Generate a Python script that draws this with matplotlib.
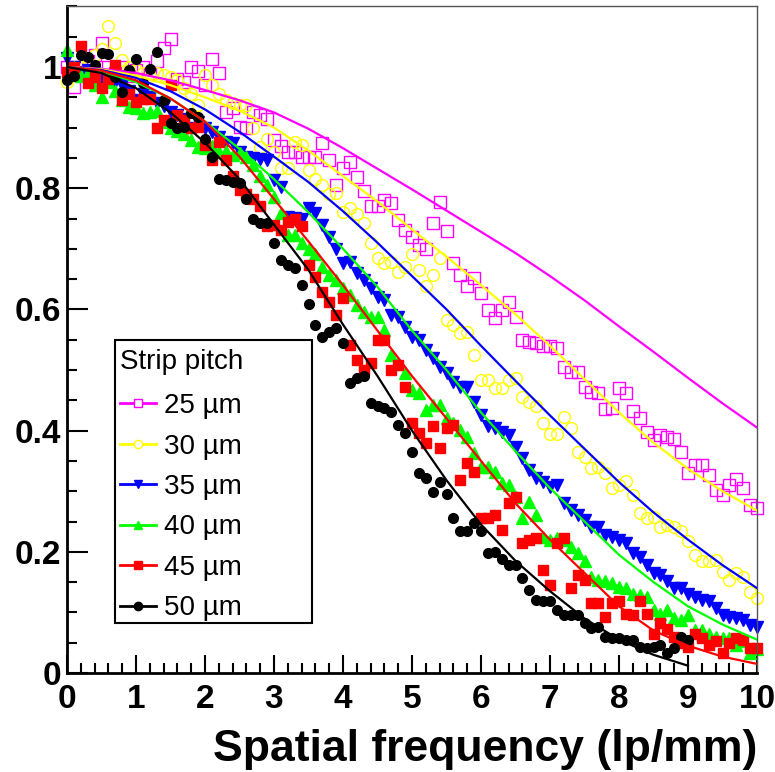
import numpy as np
import matplotlib
matplotlib.use("Agg")
import matplotlib.pyplot as plt
from matplotlib.lines import Line2D
from matplotlib.patches import Rectangle
from matplotlib.ticker import MultipleLocator, FuncFormatter

plt.rcParams['font.family'] = ['Liberation Sans', 'DejaVu Sans']

# measured points, one every 0.1 lp/mm
freq = np.round(np.arange(0, 101) * 0.1, 1)

mtf_25 = [1.0, 0.967, 1.0, 1.01, 1.02, 1.039, 1.0, 0.99, 1.0, 0.985,
          0.995, 1.0, 0.99, 1.01, 1.031, 1.047, 0.98, 0.975, 1.0, 0.994,
          0.97, 1.013, 0.99, 0.926, 0.932, 0.901, 0.899, 0.925, 0.92, 0.915,
          0.88, 0.87, 0.86, 0.86, 0.852, 0.852, 0.852, 0.874, 0.847, 0.805,
          0.833, 0.843, 0.818, 0.796, 0.77, 0.77, 0.78, 0.775, 0.748, 0.731,
          0.72, 0.706, 0.70, 0.743, 0.778, 0.73, 0.676, 0.656, 0.639, 0.652,
          0.627, 0.599, 0.586, 0.599, 0.613, 0.588, 0.55, 0.547, 0.545, 0.54,
          0.54, 0.537, 0.505, 0.496, 0.496, 0.472, 0.463, 0.462, 0.436, 0.438,
          0.47, 0.462, 0.432, 0.42, 0.398, 0.384, 0.393, 0.39, 0.386, 0.365,
          0.33, 0.344, 0.343, 0.327, 0.302, 0.293, 0.31, 0.32, 0.305, 0.278,
          0.272]
mtf_30 = [0.976, 0.99, 1.0, 1.01, 1.02, 1.03, 1.068, 1.039, 1.011, 1.0,
          0.995, 0.99, 0.985, 0.99, 0.987, 0.984, 0.979, 0.965, 0.955, 0.937,
          0.987, 0.97, 0.955, 0.945, 0.94, 0.937, 0.937, 0.9, 0.868, 0.882,
          0.86, 0.833, 0.833, 0.877, 0.871, 0.83, 0.815, 0.805, 0.79, 0.792,
          0.761, 0.767, 0.757, 0.742, 0.709, 0.684, 0.676, 0.679, 0.662, 0.67,
          0.691, 0.665, 0.639, 0.656, 0.685, 0.583, 0.574, 0.561, 0.563, 0.525,
          0.483, 0.483, 0.47, 0.47, 0.483, 0.486, 0.456, 0.448, 0.44, 0.412,
          0.395, 0.394, 0.423, 0.405, 0.365, 0.357, 0.339, 0.34, 0.33, 0.306,
          0.31, 0.317, 0.294, 0.264, 0.256, 0.258, 0.241, 0.244, 0.241, 0.234,
          0.217, 0.195, 0.184, 0.184, 0.186, 0.167, 0.153, 0.165, 0.159, 0.134,
          0.124]
mtf_35 = [1.015, 1.0, 0.99, 0.995, 0.985, 0.982, 0.985, 0.976, 0.97, 0.96,
          0.946, 0.955, 0.95, 0.94, 0.935, 0.925, 0.92, 0.915, 0.9, 0.91,
          0.9, 0.893, 0.885, 0.877, 0.874, 0.86, 0.852, 0.85, 0.849, 0.847,
          0.814, 0.802, 0.753, 0.751, 0.75, 0.767, 0.759, 0.739, 0.72, 0.70,
          0.676, 0.679, 0.66, 0.649, 0.635, 0.621, 0.616, 0.591, 0.588, 0.571,
          0.555, 0.55, 0.533, 0.519, 0.505, 0.495, 0.481, 0.472, 0.472, 0.448,
          0.425, 0.407, 0.404, 0.398, 0.393, 0.373, 0.355, 0.335, 0.321, 0.316,
          0.307, 0.31, 0.28, 0.269, 0.261, 0.252, 0.241, 0.241, 0.228, 0.225,
          0.219, 0.214, 0.198, 0.192, 0.178, 0.165, 0.162, 0.151, 0.14, 0.14,
          0.131, 0.126, 0.12, 0.118, 0.107, 0.096, 0.093, 0.09, 0.087, 0.08,
          0.076]
mtf_40 = [1.028, 1.0, 0.985, 0.99, 0.97, 0.951, 0.975, 0.96, 0.945, 0.934,
          0.932, 0.924, 0.926, 0.928, 0.91, 0.9, 0.895, 0.89, 0.88, 0.868,
          0.866, 0.87, 0.86, 0.862, 0.855, 0.858, 0.852, 0.838, 0.82, 0.805,
          0.786, 0.759, 0.723, 0.723, 0.71, 0.70, 0.692, 0.67, 0.657, 0.649,
          0.635, 0.624, 0.607, 0.596, 0.588, 0.588, 0.566, 0.525, 0.51, 0.495,
          0.467, 0.462, 0.434, 0.442, 0.442, 0.42, 0.412, 0.401, 0.39, 0.363,
          0.34, 0.34, 0.332, 0.313, 0.31, 0.29, 0.255, 0.283, 0.261, 0.225,
          0.219, 0.222, 0.219, 0.208, 0.198, 0.184, 0.159, 0.153, 0.151, 0.148,
          0.142, 0.14, 0.131, 0.129, 0.126, 0.104, 0.098, 0.104, 0.09, 0.087,
          0.096, 0.071, 0.071, 0.065, 0.06, 0.057, 0.057, 0.046, 0.052, 0.033,
          0.04]
mtf_45 = [0.992, 1.0, 1.034, 0.973, 0.984, 0.965, 0.98, 1.003, 0.946, 0.955,
          0.943, 0.948, 0.948, 0.899, 0.913, 0.97, 0.921, 0.912, 0.899, 0.901,
          0.871, 0.847, 0.877, 0.847, 0.82, 0.797, 0.791, 0.783, 0.77, 0.737,
          0.739, 0.731, 0.745, 0.75, 0.737, 0.673, 0.654, 0.629, 0.612, 0.591,
          0.618, 0.541, 0.516, 0.5, 0.511, 0.55, 0.55, 0.5, 0.508, 0.472,
          0.412, 0.396, 0.379, 0.407, 0.371, 0.404, 0.409, 0.318, 0.346, 0.332,
          0.255, 0.255, 0.261, 0.236, 0.28, 0.291, 0.214, 0.219, 0.222, 0.17,
          0.145, 0.214, 0.222, 0.14, 0.162, 0.153, 0.115, 0.115, 0.093, 0.115,
          0.118, 0.098, 0.096, 0.118, 0.098, 0.065, 0.082, 0.072, 0.06, 0.05,
          0.043, 0.065, 0.057, 0.046, 0.052, 0.033, 0.049, 0.057, 0.054, 0.041,
          0.041]
mtf_50 = [0.978, 0.985, 1.02, 1.017, 1.003, 1.023, 1.021, 0.984, 0.959, 0.995,
          1.014, 0.973, 0.997, 1.024, 0.946, 0.907, 0.899, 0.901, 0.924, 0.918,
          0.882, 0.852, 0.815, 0.814, 0.811, 0.808, 0.783, 0.75, 0.742, 0.742,
          0.709, 0.682, 0.673, 0.668, 0.64, 0.609, 0.574, 0.555, 0.563, 0.569,
          0.544, 0.478, 0.486, 0.49, 0.445, 0.44, 0.437, 0.431, 0.409, 0.396,
          0.365, 0.33, 0.322, 0.299, 0.316, 0.295, 0.255, 0.234, 0.234, 0.247,
          0.234, 0.198, 0.2, 0.188, 0.178, 0.178, 0.156, 0.137, 0.12, 0.118,
          0.118, 0.104, 0.096, 0.096, 0.096, 0.082, 0.074, 0.076, 0.06, 0.057,
          0.057, 0.054, 0.054, 0.043, 0.041, 0.043, 0.046, 0.033, 0.041, 0.06,
          0.054]

# fitted curves, read every 0.5 lp/mm
fit_freq = np.round(np.arange(0, 21) * 0.5, 1)
fit_25 = [1.0, 0.997, 0.99, 0.978, 0.962, 0.945, 0.925, 0.898, 0.866, 0.832, 0.798,
          0.763, 0.728, 0.693, 0.655, 0.615, 0.572, 0.53, 0.487, 0.445, 0.405]
fit_30 = [1.0, 0.996, 0.986, 0.97, 0.95, 0.928, 0.9, 0.862, 0.82, 0.778, 0.732,
          0.687, 0.64, 0.592, 0.54, 0.485, 0.43, 0.38, 0.337, 0.3, 0.268]
fit_35 = [1.0, 0.995, 0.982, 0.96, 0.93, 0.893, 0.852, 0.81, 0.762, 0.71, 0.655,
          0.6, 0.54, 0.482, 0.425, 0.37, 0.315, 0.265, 0.22, 0.178, 0.14]
fit_40 = [1.0, 0.993, 0.975, 0.948, 0.91, 0.865, 0.815, 0.76, 0.7, 0.637, 0.565,
          0.5, 0.43, 0.366, 0.305, 0.25, 0.195, 0.15, 0.11, 0.08, 0.055]
fit_45 = [1.0, 0.994, 0.978, 0.948, 0.91, 0.852, 0.782, 0.712, 0.64, 0.565, 0.49,
          0.42, 0.35, 0.28, 0.22, 0.165, 0.11, 0.07, 0.045, 0.027, 0.015]
fit_50 = [1.0, 0.99, 0.965, 0.925, 0.875, 0.815, 0.74, 0.665, 0.575, 0.49, 0.4,
          0.318, 0.245, 0.185, 0.135, 0.09, 0.055, 0.03, 0.012]

labels = ["25 µm", "30 µm", "35 µm", "40 µm", "45 µm", "50 µm"]
colors = ["#ff00ff", "#ffff00", "#0000ff", "#00ff00", "#ff0000", "#000000"]
markers = ["s", "o", "v", "^", "s", "o"]
sizes = [8.5, 8.5, 8, 8, 7.5, 7]
filled = [False, False, True, True, True, True]
data = [mtf_25, mtf_30, mtf_35, mtf_40, mtf_45, mtf_50]
fits = [fit_25, fit_30, fit_35, fit_40, fit_45, fit_50]

fig = plt.figure(figsize=(7.75, 7.72), dpi=100)
ax = fig.add_axes([67 / 775, 99 / 772, 690 / 775, 666.6 / 772])

for y, c, m, s, f in zip(data, colors, markers, sizes, filled):
    x = freq[:len(y)]
    ax.plot(x, y, ls="none", marker=m, ms=s, color=c,
            mfc=c if f else "none", mec=c, mew=1.0, clip_on=False, zorder=2)

for y, c in zip(fits, colors):
    ax.plot(fit_freq[:len(y)], y, color=c, lw=1.6, zorder=3)

ax.set_xlim(0, 10)
ax.set_ylim(0, 1.1)

ax.xaxis.set_major_locator(MultipleLocator(1))
ax.xaxis.set_minor_locator(MultipleLocator(0.2))
ax.yaxis.set_major_locator(MultipleLocator(0.2))
ax.yaxis.set_minor_locator(MultipleLocator(0.05))
ax.yaxis.set_major_formatter(FuncFormatter(lambda v, p: "%g" % round(v, 2)))
ax.xaxis.set_major_formatter(FuncFormatter(lambda v, p: "%g" % round(v, 2)))

ax.tick_params(which="both", direction="in", top=False, right=False, width=1.5)
ax.tick_params(which="major", length=15, labelsize=24)
ax.tick_params(which="minor", length=7)
ax.tick_params(axis="x", which="major", length=13)
ax.tick_params(axis="y", which="major", pad=4)
ax.tick_params(axis="x", which="major", pad=8)
for lab in ax.get_xticklabels() + ax.get_yticklabels():
    lab.set_fontweight("bold")

for side in ["left", "bottom"]:
    ax.spines[side].set_linewidth(2)
for side in ["top", "right"]:
    ax.spines[side].set_linewidth(1)
    ax.spines[side].set_color("#555555")

ax.set_xlabel("Spatial frequency (lp/mm)", loc="right", fontsize=32,
              fontweight="bold", labelpad=10)

# legend: fixed-size frame like ROOT's TLegend
ax.add_patch(Rectangle((48 / 690, 50 / 666.6), 197 / 690, 283 / 666.6,
                       transform=ax.transAxes, fill=True, facecolor="white",
                       edgecolor="black", lw=1.5, zorder=4))
handles = []
for c, m, f in zip(colors, markers, filled):
    handles.append(Line2D([], [], color=c, lw=2, marker=m, ms=6,
                          mfc=c if f else "white", mec=c, mew=1))
leg = ax.legend(handles, labels, title="Strip pitch", loc="upper left",
                bbox_to_anchor=(53 / 690, 324 / 666.6), fontsize=20,
                title_fontsize=20, frameon=False, handlelength=1.3,
                handletextpad=0.3, labelspacing=0.52, borderpad=0,
                borderaxespad=0, alignment="left")
leg._legend_box.sep = 13
leg.set_zorder(5)

fig.savefig("out.png", dpi=100)
